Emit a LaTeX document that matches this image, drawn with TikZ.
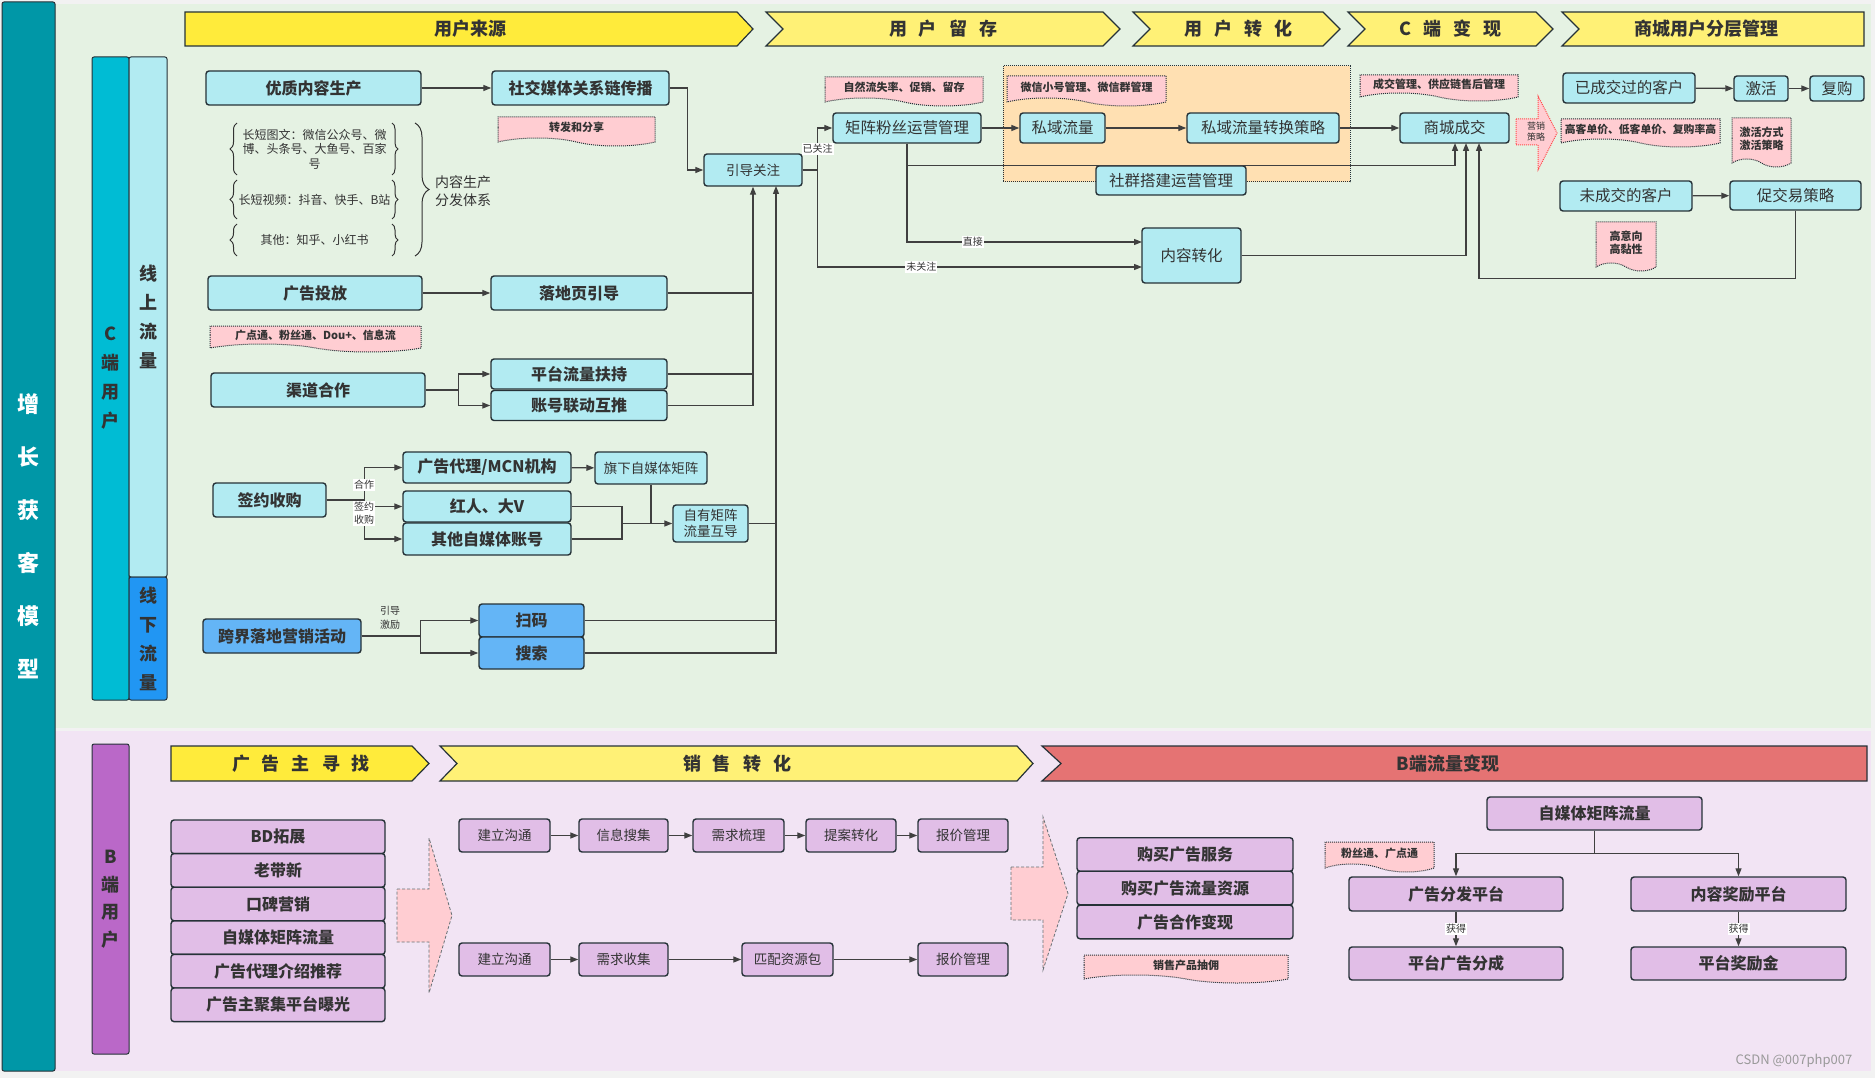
\documentclass[tikz,border=0pt]{standalone}
\usepackage{fontspec}
\setmainfont{Noto Sans CJK SC}
\usetikzlibrary{arrows.meta,shapes.symbols,decorations.pathreplacing}
\definecolor{bgout}{HTML}{F2F2F2}
\definecolor{bggreen}{HTML}{E5F2E3}
\definecolor{bgpink}{HTML}{F2E4F4}
\definecolor{tealbar}{HTML}{0097A7}
\definecolor{cbar}{HTML}{00BCD4}
\definecolor{cyanbox}{HTML}{B2EBF2}
\definecolor{bluebox}{HTML}{64B5F6}
\definecolor{bluebar}{HTML}{2196F3}
\definecolor{purplebar}{HTML}{BA68C8}
\definecolor{purplebox}{HTML}{E1BEE7}
\definecolor{tagpink}{HTML}{FFCDD2}
\definecolor{orangebg}{HTML}{FFE0B2}
\definecolor{yellowA}{HTML}{FFEB3B}
\definecolor{yellowB}{HTML}{FFF176}
\definecolor{redban}{HTML}{E57373}
\definecolor{edge}{HTML}{263238}
\definecolor{wire}{HTML}{404040}
\definecolor{ink}{HTML}{333333}
\newcommand{\bgap}{\hspace{12pt}}

\begin{document}
\begin{tikzpicture}[x=1pt,y=-1pt,
  basebox/.style={draw=edge,line width=1.4pt,rounded corners=3pt,text=ink,inner sep=0pt,
    font=\fontsize{16}{19}\selectfont\bfseries},
  cbox/.style={basebox,fill=cyanbox},
  cthin/.style={basebox,fill=cyanbox,font=\fontsize{15.5}{18}\selectfont},
  bbox/.style={basebox,fill=bluebox},
  pbox/.style={basebox,fill=purplebox},
  pthin/.style={basebox,fill=purplebox,font=\fontsize{13.5}{16}\selectfont},
  bar/.style={draw=edge,line width=1pt,rounded corners=2pt,inner sep=0pt,align=center},
  tagbox/.style={shape=tape,tape bend top=none,tape bend bottom=out and in,tape bend height=8pt,
    draw=edge,densely dotted,line width=1pt,fill=tagpink,text=ink,inner sep=0pt,
    font=\fontsize{11}{13}\selectfont\bfseries},
  arr/.style={draw=wire,line width=1.3pt,-{Triangle[length=8pt,width=6pt]}},
  ln/.style={draw=wire,line width=1.3pt},
  lbl/.style={fill=white,inner sep=1pt,text=ink,font=\fontsize{10}{11}\selectfont},
  brc/.style={decorate,draw=ink,line width=1pt},
  ban/.style={draw=edge,line width=1.2pt},
  bantext/.style={text=ink,font=\fontsize{18}{20}\selectfont\bfseries},
  bigarrow/.style={fill=tagpink,draw=edge!70,densely dashed,line width=0.8pt}]
\useasboundingbox (0,0) rectangle (1875,1078);
\fill[bgout] (0,0) rectangle (1875,1078);
\fill[bggreen] (55,4) rectangle (1871,728);
\fill[bgpink] (55,731) rectangle (1871,1071);

% side bars
\node[bar,fill=tealbar,minimum width=53pt,minimum height=1069pt,text=white,
  font=\fontsize{22}{53}\selectfont\bfseries] (zzhk) at (28.5,536.5) {增\\长\\获\\客\\模\\型};
\node[bar,fill=cbar,minimum width=37pt,minimum height=643pt,text=ink,
  font=\fontsize{18}{29}\selectfont\bfseries] (cuser) at (110.5,378.5) {C\\端\\用\\户};
\node[bar,fill=cyanbox,minimum width=38pt,minimum height=520pt,text=ink,
  font=\fontsize{18}{29}\selectfont\bfseries] (online) at (148,317) {线\\上\\流\\量};
\node[bar,fill=bluebar,minimum width=38pt,minimum height=123pt,text=ink,
  font=\fontsize{18}{29}\selectfont\bfseries] (offline) at (148,638.5) {线\\下\\流\\量};
\node[bar,fill=purplebar,minimum width=37pt,minimum height=310pt,text=ink,
  font=\fontsize{18}{27.5}\selectfont\bfseries] (buser) at (110.5,899) {B\\端\\用\\户};

% top banners
\filldraw[ban,fill=yellowA] (185,12) -- (737,12) -- (753,29) -- (737,46) -- (185,46) -- cycle;
\node[bantext] (ban1) at (470,29) {用户来源};
\filldraw[ban,fill=yellowB] (766,12) -- (1103,12) -- (1120,29) -- (1103,46) -- (766,46) -- (783,29) -- cycle;
\node[bantext] (ban2) at (943,29) {用\bgap 户\bgap 留\bgap 存};
\filldraw[ban,fill=yellowB] (1133,12) -- (1323,12) -- (1340,29) -- (1323,46) -- (1133,46) -- (1150,29) -- cycle;
\node[bantext] (ban3) at (1238,29) {用\bgap 户\bgap 转\bgap 化};
\filldraw[ban,fill=yellowB] (1348,12) -- (1536,12) -- (1553,29) -- (1536,46) -- (1348,46) -- (1365,29) -- cycle;
\node[bantext] (ban4) at (1450,29) {C\bgap 端\bgap 变\bgap 现};
\filldraw[ban,fill=yellowB] (1562,12) -- (1864,12) -- (1864,46) -- (1562,46) -- (1579,29) -- cycle;
\node[bantext] (ban5) at (1706,29) {商城用户分层管理};

% orange area
\filldraw[fill=orangebg,draw=edge,densely dotted,line width=1pt] (1003,66) rectangle (1350,182);

% user source
\node[cbox,minimum width=215pt,minimum height=34pt] (yzsc) at (313.5,88) {优质内容生产};
\node[cbox,minimum width=177pt,minimum height=34pt] (sjmt) at (580.5,88) {社交媒体关系链传播};
\node[tagbox,minimum width=157pt,minimum height=29pt] (zffx) at (576.5,127.5) {转发和分享};
\node[text=ink,align=center,font=\fontsize{12}{14.5}\selectfont] (twen) at (314.5,149) {长短图文：微信公众号、微\\博、头条号、大鱼号、百家\\号};
\node[text=ink,font=\fontsize{12}{14.5}\selectfont] (shipin) at (314.5,199.5) {长短视频：抖音、快手、B站};
\node[text=ink,font=\fontsize{12}{14.5}\selectfont] (qita) at (314.5,240) {其他：知乎、小红书};
\draw[brc,decoration={brace,amplitude=7pt}] (237,175) -- (237,123);
\draw[brc,decoration={brace,amplitude=6pt}] (392,123) -- (392,175);
\draw[brc,decoration={brace,amplitude=7pt}] (237,219) -- (237,180);
\draw[brc,decoration={brace,amplitude=6pt}] (392,180) -- (392,219);
\draw[brc,decoration={brace,amplitude=7pt}] (237,256) -- (237,224);
\draw[brc,decoration={brace,amplitude=6pt}] (392,224) -- (392,256);
\draw[brc,decoration={brace,amplitude=14pt}] (415,123) -- (415,256);
\node[text=ink,align=left,font=\fontsize{14}{18}\selectfont] (fenfa) at (463,191) {内容生产\\分发体系};
\node[cbox,minimum width=214pt,minimum height=34pt] (ggtf) at (315,293) {广告投放};
\node[cbox,minimum width=176pt,minimum height=34pt] (ldy) at (579,293) {落地页引导};
\node[tagbox,minimum width=211pt,minimum height=26pt] (gdt) at (315.5,335) {广点通、粉丝通、Dou+、信息流};
\node[cbox,minimum width=214pt,minimum height=34pt] (qdhz) at (318,390) {渠道合作};
\node[cbox,minimum width=176pt,minimum height=30pt] (ptll) at (579,374) {平台流量扶持};
\node[cbox,minimum width=176pt,minimum height=30pt] (zhld) at (579,405.5) {账号联动互推};
\node[cbox,minimum width=113pt,minimum height=34pt] (qysg) at (269.5,500) {签约收购};
\node[cbox,minimum width=168pt,minimum height=31pt] (mcn) at (487,467.5) {广告代理/MCN机构};
\node[cbox,minimum width=168pt,minimum height=31pt] (hrdv) at (487,506.5) {红人、大V};
\node[cbox,minimum width=168pt,minimum height=32pt] (qtzh) at (487,539) {其他自媒体账号};
\node[cthin,minimum width=112pt,minimum height=32pt,font=\fontsize{13.5}{16}\selectfont] (qxjz) at (651,468) {旗下自媒体矩阵};
\node[cthin,minimum width=75pt,minimum height=37pt,align=center,font=\fontsize{13.5}{16}\selectfont] (zyhd) at (710.5,523.5) {自有矩阵\\流量互导};
\node[bbox,minimum width=158pt,minimum height=34pt] (kjhd) at (282,636) {跨界落地营销活动};
\node[bbox,minimum width=105pt,minimum height=33pt] (saoma) at (531.5,620.5) {扫码};
\node[bbox,minimum width=105pt,minimum height=32pt] (sousuo) at (531.5,653) {搜索};

% retention, conversion
\node[cthin,minimum width=98pt,minimum height=32pt,font=\fontsize{13.5}{16}\selectfont] (ydgz) at (753,170) {引导关注};
\node[cthin,minimum width=148pt,minimum height=30pt] (jzfs) at (907,128) {矩阵粉丝运营管理};
\node[tagbox,minimum width=158pt,minimum height=29pt] (lsl) at (904,87.5) {自然流失率、促销、留存};
\node[tagbox,minimum width=159pt,minimum height=30pt] (wxgl) at (1086.5,87) {微信小号管理、微信群管理};
\node[cthin,minimum width=85pt,minimum height=30pt] (syll) at (1062.5,128) {私域流量};
\node[cthin,minimum width=152pt,minimum height=30pt] (syzh) at (1263,128) {私域流量转换策略};
\node[cthin,minimum width=150pt,minimum height=29pt] (sqgl) at (1171,180.5) {社群搭建运营管理};
\node[cthin,minimum width=99pt,minimum height=55pt] (nrzh) at (1191.5,255.5) {内容转化};
\node[cthin,minimum width=109pt,minimum height=30pt] (sccj) at (1454.5,128) {商城成交};
\node[tagbox,minimum width=158pt,minimum height=26pt] (cjgl) at (1439,84) {成交管理、供应链售后管理};
\filldraw[fill=tagpink,draw=red!70,densely dotted,line width=1pt] (1516,119) -- (1538,119) -- (1538,96) -- (1557,133) -- (1538,170) -- (1538,145) -- (1516,145) -- cycle;
\node[text=ink,align=center,font=\fontsize{9}{11}\selectfont] (yxcl) at (1536,132) {营销\\策略};
\node[cthin,minimum width=132pt,minimum height=30pt] (ycj) at (1629,88) {已成交过的客户};
\node[cthin,minimum width=54pt,minimum height=25pt] (jihuo) at (1761,88.5) {激活};
\node[cthin,minimum width=54pt,minimum height=25pt] (fugou) at (1837,88.5) {复购};
\node[tagbox,minimum width=159pt,minimum height=28pt,font=\fontsize{10.8}{12}\selectfont\bfseries] (kdj) at (1640.5,129) {高客单价、低客单价、复购率高};
\node[tagbox,minimum width=59pt,minimum height=49pt,align=center] (jhfs) at (1761.5,138.5) {激活方式\\激活策略};
\node[cthin,minimum width=132pt,minimum height=30pt] (wcj) at (1626,196) {未成交的客户};
\node[cthin,minimum width=131pt,minimum height=29pt] (cjy) at (1795.5,195.5) {促交易策略};
\node[tagbox,minimum width=60pt,minimum height=49pt,align=center] (gyx) at (1626,242.5) {高意向\\高黏性};

% connectors, C side
\draw[arr] (yzsc) -- (sjmt);
\draw[arr] (sjmt.east) -- ++(18,0) |- (ydgz.west);
\draw[arr] (ggtf) -- (ldy);
\draw[ln] (ldy.east) -- (ldy.east -| ydgz.south);
\draw[ln] (ptll.east) -- (ptll.east -| ydgz.south);
\draw[arr] (zhld.east) -| (ydgz.south);
\draw[arr] (qdhz.east) -- ++(33,0) |- (ptll.west);
\draw[arr] (qdhz.east) -- ++(33,0) |- (zhld.west);
\draw[arr] (qysg.east) -- ++(38,0) |- (mcn.west);
\draw[arr] (qysg.east) -- ++(38,0) |- (hrdv.west);
\draw[arr] (qysg.east) -- ++(38,0) |- (qtzh.west);
\node[lbl] (hezuo) at (364,485) {合作};
\node[lbl,align=center,font=\fontsize{10}{13}\selectfont] (qyshg) at (364,513.5) {签约\\收购};
\draw[arr] (mcn) -- (qxjz);
\coordinate (hdj) at (622,523.5);
\draw[ln] (hrdv.east) -| (hdj);
\draw[ln] (qtzh.east) -| (hdj);
\draw[ln] (qxjz.south) -- (qxjz.south |- hdj);
\draw[arr] (hdj) -- (zyhd.west);
\coordinate (gzB) at (776,186);
\draw[ln] (zyhd.east) -- (zyhd.east -| gzB);
\draw[ln] (saoma.east) -- (saoma.east -| gzB);
\draw[arr] (sousuo.east) -| (gzB);
\draw[arr] (kjhd.east) -- ++(59,0) |- (saoma.west);
\draw[arr] (kjhd.east) -- ++(59,0) |- (sousuo.west);
\node[text=ink,align=center,font=\fontsize{10}{14}\selectfont] (yindao) at (390,618) {引导\\激励};
\coordinate (nrzhA) at (1142,242);
\coordinate (nrzhB) at (1142,267);
\draw[arr] (ydgz.east) -- ++(15,0) |- node[lbl,pos=0.25] (ygz) {已关注} (jzfs.west);
\draw[arr] (ydgz.east) -- ++(15,0) |- node[lbl,pos=0.66] (wgz) {未关注} (nrzhB);
\draw[arr] (jzfs.south) |- node[lbl,pos=0.64] (zhij) {直接} (nrzhA);
\draw[arr] (jzfs) -- (syll);
\draw[arr] (syll) -- (syzh);
\draw[arr] (syzh) -- (sccj);
\coordinate (cjA) at (1455,143);
\coordinate (cjB) at (1466,143);
\coordinate (cjC) at (1479,143);
\draw[arr] (jzfs.south) -- ++(0,22) -| (cjA);
\draw[arr] (nrzh.east) -| (cjB);
\draw[arr] (cjy.south) -- ++(0,68) -| (cjC);
\draw[arr] (ycj) -- (jihuo);
\draw[arr] (jihuo) -- (fugou);
\draw[arr] (wcj) -- (cjy);

% bottom banners
\filldraw[ban,fill=yellowA] (171,746) -- (412,746) -- (429,763.5) -- (412,781) -- (171,781) -- cycle;
\node[bantext] (ban6) at (301,763.5) {广\bgap 告\bgap 主\bgap 寻\bgap 找};
\filldraw[ban,fill=yellowB] (440,746) -- (1017,746) -- (1033,763.5) -- (1017,781) -- (440,781) -- (457,763.5) -- cycle;
\node[bantext] (ban7) at (737,763.5) {销\bgap 售\bgap 转\bgap 化};
\filldraw[ban,fill=redban] (1042,746) -- (1867,746) -- (1867,781) -- (1042,781) -- (1061,763.5) -- cycle;
\node[bantext] (ban8) at (1448,763.5) {B端流量变现};

% B side
\node[pbox,minimum width=214pt,minimum height=33.6pt] (bdtz) at (278,836.8) {BD拓展};
\node[pbox,minimum width=214pt,minimum height=33.6pt] (ldx) at (278,870.4) {老带新};
\node[pbox,minimum width=214pt,minimum height=33.6pt] (kbyx) at (278,904) {口碑营销};
\node[pbox,minimum width=214pt,minimum height=33.6pt] (zmtA) at (278,937.6) {自媒体矩阵流量};
\node[pbox,minimum width=214pt,minimum height=33.6pt] (dljs) at (278,971.2) {广告代理介绍推荐};
\node[pbox,minimum width=214pt,minimum height=33.6pt] (jjbg) at (278,1004.8) {广告主聚集平台曝光};
\filldraw[bigarrow] (397,889) -- (429,889) -- (429,838) -- (452,915.5) -- (429,993) -- (429,942) -- (397,942) -- cycle;
\node[pthin,minimum width=91pt,minimum height=33pt] (jlA) at (504.5,835.5) {建立沟通};
\node[pthin,minimum width=89pt,minimum height=33pt] (xxsj) at (623.5,835.5) {信息搜集};
\node[pthin,minimum width=91pt,minimum height=33pt] (xqsl) at (738.5,835.5) {需求梳理};
\node[pthin,minimum width=90pt,minimum height=33pt] (tazh) at (851,835.5) {提案转化};
\node[pthin,minimum width=90pt,minimum height=33pt] (bjA) at (963,835.5) {报价管理};
\node[pthin,minimum width=91pt,minimum height=33pt] (jlB) at (504.5,959.5) {建立沟通};
\node[pthin,minimum width=89pt,minimum height=33pt] (xqsj) at (623.5,959.5) {需求收集};
\node[pthin,minimum width=91pt,minimum height=33pt] (ppzy) at (787.5,959.5) {匹配资源包};
\node[pthin,minimum width=90pt,minimum height=33pt] (bjB) at (963,959.5) {报价管理};
\draw[arr] (jlA) -- (xxsj);
\draw[arr] (xxsj) -- (xqsl);
\draw[arr] (xqsl) -- (tazh);
\draw[arr] (tazh) -- (bjA);
\draw[arr] (jlB) -- (xqsj);
\draw[arr] (xqsj) -- (ppzy);
\draw[arr] (ppzy) -- (bjB);
\filldraw[bigarrow] (1011,867) -- (1043,867) -- (1043,817) -- (1068,893.5) -- (1043,970) -- (1043,920) -- (1011,920) -- cycle;
\node[pbox,minimum width=216pt,minimum height=33.6pt] (gmfw) at (1185,854.5) {购买广告服务};
\node[pbox,minimum width=216pt,minimum height=33.6pt] (gmll) at (1185,888) {购买广告流量资源};
\node[pbox,minimum width=216pt,minimum height=33.6pt] (hzbx) at (1185,922) {广告合作变现};
\node[tagbox,minimum width=204pt,minimum height=28pt] (chy) at (1186,965) {销售产品抽佣};
\node[pbox,minimum width=215pt,minimum height=33pt] (zmtB) at (1594.5,813.5) {自媒体矩阵流量};
\node[tagbox,minimum width=109pt,minimum height=30pt] (fst) at (1379.5,853) {粉丝通、广点通};
\node[pbox,minimum width=214pt,minimum height=34pt] (ggff) at (1456,894) {广告分发平台};
\node[pbox,minimum width=215pt,minimum height=34pt] (nrjl) at (1738.5,894) {内容奖励平台};
\node[pbox,minimum width=214pt,minimum height=33pt] (ptfc) at (1456,963.5) {平台广告分成};
\node[pbox,minimum width=215pt,minimum height=33pt] (ptjj) at (1738.5,963.5) {平台奖励金};
\draw[arr] (zmtB.south) -- ++(0,23) -| (ggff.north);
\draw[arr] (zmtB.south) -- ++(0,23) -| (nrjl.north);
\draw[arr] (ggff) -- node[lbl] (hdA) {获得} (ptfc);
\draw[arr] (nrjl) -- node[lbl] (hdB) {获得} (ptjj);

\node[text=gray!80,font=\fontsize{13}{15}\selectfont] (csdn) at (1794,1061) {CSDN @007php007};
\end{tikzpicture}
\end{document}
